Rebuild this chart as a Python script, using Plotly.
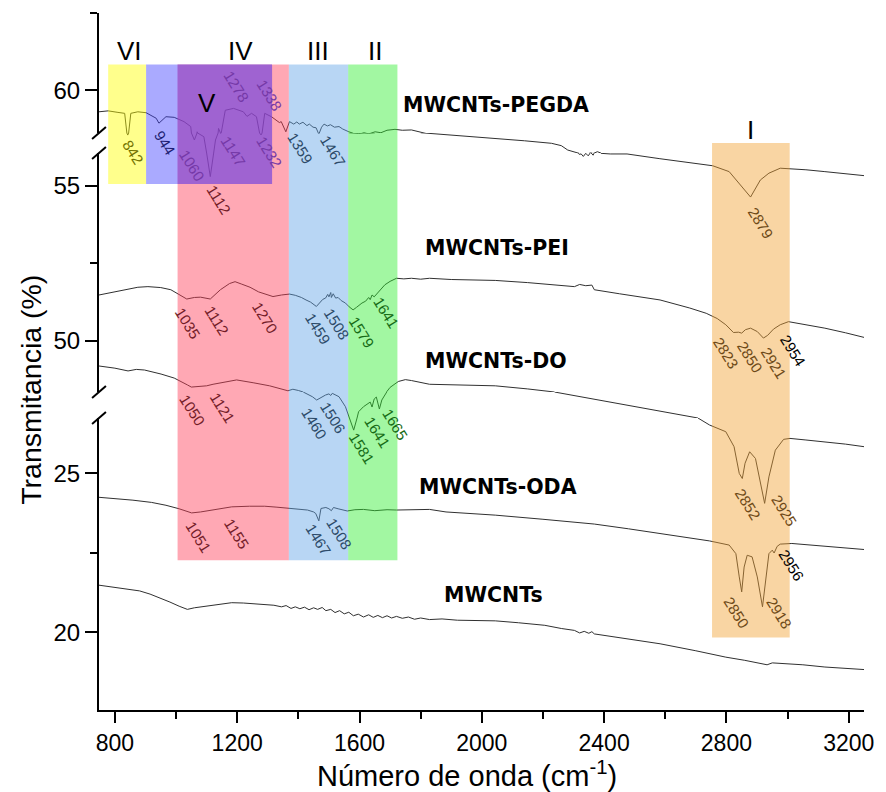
import plotly.graph_objects as go

# ---------------- spectra: wavenumber (cm-1) / transmittance (%) ----------------
wn_pegda = [748, 778, 810, 832, 842, 852, 875, 902, 935, 944, 967, 994, 1026, 1048, 1060, 1069,
            1091, 1100, 1112, 1123, 1129, 1139, 1147, 1161, 1188, 1220, 1232, 1247, 1263, 1278,
            1290, 1312, 1338, 1344, 1359, 1371, 1385, 1395, 1403, 1415, 1428, 1436, 1448, 1458,
            1467, 1476, 1484, 1495, 1505, 1518, 1533, 1545, 1565, 1580, 1597, 1615, 1630, 1651,
            1670, 1690, 1716, 1740, 1770, 1800, 1828, 1880, 1937, 2000, 2044, 2140, 2228, 2260,
            2281, 2300, 2310, 2318, 2325, 2332, 2340, 2348, 2356, 2364, 2372, 2378, 2390, 2420,
            2475, 2580, 2691, 2755, 2809, 2842, 2879, 2911, 2939, 2976, 3014, 3060, 3122, 3180, 3251]
t_pegda = [59.30, 59.33, 59.28, 59.25, 58.35, 59.25, 59.30, 59.27, 59.09, 58.93, 59.14, 59.12, 58.98,
           58.82, 57.72, 58.65, 58.14, 56.06, 55.30, 56.06, 57.72, 58.76, 58.57, 59.35, 59.41, 59.30,
           59.15, 59.25, 59.14, 58.36, 59.25, 59.14, 58.95, 58.98, 58.65, 58.98, 58.90, 58.97, 58.90,
           58.96, 58.85, 58.90, 58.80, 58.78, 58.57, 58.80, 58.90, 58.84, 58.88, 58.80, 58.82, 58.74,
           58.65, 58.60, 58.57, 58.62, 58.58, 58.65, 58.62, 58.70, 58.73, 58.70, 58.71, 58.65, 58.57,
           58.42, 58.23, 58.05, 57.93, 57.62, 57.30, 57.00, 56.44, 56.25, 56.10, 56.02, 56.03, 55.95,
           56.05, 55.97, 56.08, 55.99, 56.15, 56.23, 56.05, 56.03, 56.03, 55.88, 55.73, 55.65, 55.46,
           55.09, 54.64, 55.19, 55.41, 55.57, 55.55, 55.52, 55.46, 55.40, 55.33]

wn_pei = [748, 800, 840, 875, 908, 950, 983, 1010, 1035, 1060, 1080, 1112, 1145, 1175, 1193, 1215,
          1242, 1270, 1285, 1317, 1345, 1371, 1390, 1410, 1425, 1440, 1459, 1470, 1480, 1489, 1496,
          1500, 1506, 1508, 1514, 1522, 1530, 1540, 1554, 1566, 1579, 1590, 1608, 1620, 1630, 1635,
          1641, 1648, 1662, 1672, 1683, 1700, 1721, 1745, 1770, 1800, 1829, 1900, 2044, 2150, 2250,
          2303, 2320, 2340, 2360, 2368, 2450, 2583, 2680, 2734, 2770, 2798, 2823, 2840, 2850, 2862,
          2879, 2901, 2921, 2935, 2954, 2976, 3003, 3060, 3122, 3190, 3251]
t_pei = [51.48, 51.59, 51.68, 51.73, 51.75, 51.72, 51.65, 51.50, 51.35, 51.40, 51.41, 51.35, 51.65,
         51.85, 51.91, 51.83, 51.73, 51.58, 51.54, 51.43, 51.48, 51.51, 51.47, 51.40, 51.32, 51.25,
         51.11, 51.22, 51.34, 51.38, 51.50, 51.42, 51.56, 51.40, 51.52, 51.38, 51.40, 51.30, 51.22,
         51.10, 51.00, 51.08, 51.22, 51.28, 51.40, 51.33, 51.48, 51.42, 51.59, 51.70, 51.81, 51.92,
         52.02, 52.00, 52.02, 51.99, 52.02, 51.98, 51.95, 51.88, 51.80, 51.75, 51.82, 51.78, 51.80,
         51.65, 51.52, 51.32, 51.06, 50.89, 50.72, 50.52, 50.27, 50.28, 50.25, 50.36, 50.41, 50.30,
         50.09, 50.18, 50.38, 50.52, 50.62, 50.52, 50.41, 50.26, 50.11]

wn_do = [748, 800, 843, 870, 897, 925, 951, 994, 1020, 1037, 1050, 1080, 1100, 1121, 1166, 1198,
         1252, 1306, 1366, 1382, 1400, 1416, 1430, 1446, 1460, 1468, 1489, 1500, 1506, 1511, 1522,
         1533, 1554, 1567, 1581, 1592, 1597, 1613, 1625, 1635, 1641, 1648, 1655, 1665, 1673, 1680,
         1689, 1700, 1710, 1727, 1750, 1770, 1829, 1950, 2044, 2150, 2238, 2707, 2745, 2798, 2825,
         2842, 2852, 2861, 2876, 2895, 2911, 2925, 2939, 2960, 2987, 3008, 3060, 3122, 3190, 3250]
t_do = [49.19, 49.12, 49.03, 49.08, 49.06, 49.00, 48.93, 48.80, 48.68, 48.58, 48.51, 48.52, 48.55,
        48.60, 48.69, 48.74, 48.65, 48.55, 48.39, 48.44, 48.40, 48.35, 46.50, 44.44, 41.70, 43.00,
        45.86, 46.80, 45.50, 47.27, 45.90, 44.44, 36.13, 26.73, 26.35, 26.73, 31.97, 36.13, 38.37,
        40.00, 35.88, 42.53, 44.19, 34.21, 41.70, 45.02, 48.36, 48.50, 48.58, 48.69, 48.75, 48.72,
        48.60, 48.58, 48.55, 48.45, 48.35, 26.73, 26.51, 26.30, 25.83, 24.99, 24.83, 25.31, 25.67,
        25.46, 24.68, 24.05, 24.88, 25.72, 26.06, 26.09, 26.04, 25.98, 25.91, 25.83]

wn_oda = [748, 800, 859, 920, 967, 1010, 1032, 1051, 1080, 1118, 1155, 1182, 1240, 1290, 1330, 1366,
          1400, 1430, 1450, 1457, 1467, 1474, 1490, 1500, 1508, 1515, 1530, 1560, 1585, 1613, 1650,
          1690, 1721, 1780, 1829, 1883, 1960, 2044, 2200, 2368, 2480, 2583, 2680, 2745, 2809, 2831,
          2842, 2850, 2858, 2868, 2884, 2901, 2918, 2928, 2939, 2950, 2956, 2966, 2976, 3014, 3070,
          3122, 3190, 3251]
t_oda = [24.24, 24.20, 24.15, 24.08, 23.99, 23.88, 23.81, 23.75, 23.78, 23.84, 23.90, 23.94, 23.96,
         23.96, 23.93, 23.89, 23.86, 23.84, 23.78, 23.73, 23.50, 23.89, 23.92, 23.88, 23.82, 23.92,
         23.88, 23.81, 23.85, 23.86, 23.82, 23.85, 23.84, 23.86, 23.86, 23.78, 23.73, 23.68, 23.55,
         23.40, 23.25, 23.10, 22.96, 22.87, 22.74, 22.47, 21.74, 21.27, 22.05, 22.42, 22.37, 21.74,
         20.80, 21.53, 22.47, 22.58, 22.49, 22.70, 22.77, 22.79, 22.75, 22.70, 22.65, 22.60]

wn_mw = [748, 790, 816, 850, 881, 915, 945, 980, 1010, 1037, 1060, 1096, 1140, 1182, 1220, 1260,
         1290, 1320, 1345, 1360, 1376, 1390, 1405, 1420, 1435, 1450, 1463, 1478, 1490, 1506, 1520,
         1535, 1550, 1565, 1580, 1596, 1613, 1630, 1645, 1660, 1675, 1690, 1705, 1721, 1740, 1760,
         1780, 1800, 1829, 1870, 1920, 2000, 2044, 2120, 2206, 2260, 2303, 2320, 2335, 2350, 2360,
         2368, 2450, 2583, 2700, 2798, 2860, 2906, 2933, 2950, 2971, 3050, 3122, 3190, 3251]
t_mw = [21.48, 21.42, 21.37, 21.33, 21.30, 21.20, 21.09, 20.95, 20.82, 20.72, 20.77, 20.82, 20.88,
        20.93, 20.92, 20.89, 20.88, 20.85, 20.80, 20.84, 20.75, 20.80, 20.74, 20.79, 20.71, 20.77,
        20.72, 20.78, 20.68, 20.72, 20.62, 20.68, 20.58, 20.63, 20.52, 20.57, 20.48, 20.55, 20.47,
        20.53, 20.46, 20.52, 20.45, 20.50, 20.44, 20.48, 20.41, 20.45, 20.40, 20.42, 20.38, 20.38,
        20.36, 20.30, 20.22, 20.12, 20.06, 19.98, 20.03, 19.97, 20.02, 19.95, 19.84, 19.64, 19.42,
        19.22, 19.12, 19.03, 18.98, 19.04, 19.03, 18.98, 18.91, 18.87, 18.83]

series_names = ["MWCNTs-PEGDA", "MWCNTs-PEI", "MWCNTs-DO", "MWCNTs-ODA", "MWCNTs"]
series_wn = [wn_pegda, wn_pei, wn_do, wn_oda, wn_mw]
series_t = [t_pegda, t_pei, t_do, t_oda, t_mw]
# where each series name is written (wavenumber, transmittance)
name_wn = [2046, 2050, 2046, 2053, 2037]
name_t = [59.52, 53.0, 49.35, 24.56, 21.16]

# ---------------- assignment bands ----------------
band_names = ["VI", "IV", "V", "III", "II", "I"]
band_from = [778, 902, 1005, 1369, 1563, 2753]
band_to = [902, 1314, 1369, 1563, 1724, 3007]
band_top = [60.84, 60.84, 60.84, 60.84, 60.84, 57.33]
band_bottom = [55.06, 55.06, 22.26, 22.26, 22.26, 19.84]
band_label_wn = [847, 1212, 1101, 1463, 1650, 2878]
band_label_t = [61.26, 61.26, 59.58, 61.26, 61.26, 58.71]

# ---------------- peak positions written on the spectra ----------------
peak_text = ["842", "944", "1060", "1112", "1147", "1232", "1278", "1338", "1359", "1467", "2879",
             "1035", "1112", "1270", "1459", "1508", "1579", "1641", "2823", "2850", "2921", "2954",
             "1050", "1121", "1460", "1506", "1581", "1641", "1665", "2852", "2925",
             "1051", "1155", "1467", "1508", "2850", "2918", "2956"]
peak_wn = [861, 962, 1052, 1139, 1185, 1307, 1198, 1307, 1408, 1511, 2911,
           1036, 1133, 1291, 1463, 1524, 1605, 1686, 2797, 2875, 2953, 3017,
           1055, 1152, 1453, 1514, 1605, 1660, 1718, 2868, 2988,
           1075, 1198, 1466, 1534, 2833, 2972, 3014]
peak_t = [56.19, 57.34, 55.65, 54.55, 56.32, 56.19, 60.13, 59.84, 56.70, 56.32, 53.81,
          50.58, 50.65, 50.77, 50.39, 50.55, 50.29, 50.90, 49.61, 49.48, 49.29, 49.68,
          33.38, 35.88, 26.57, 27.56, 25.79, 26.29, 26.54, 24.03, 23.81,
          22.99, 23.11, 22.92, 23.11, 20.63, 20.63, 22.11]

# ---------------- broken y axis ----------------
Y_PIECES = [(17.56, 26.73), (48.35, 56.06), (58.61, 62.51)]
Y_DOMAINS = [(0.0, 0.4189), (0.4562, 0.7991), (0.8278, 1.0)]

pieces = []
for i, (rng, dom) in enumerate(zip(Y_PIECES, Y_DOMAINS)):
    pieces.append((rng, dom, True))
    if i + 1 < len(Y_PIECES):
        pieces.append(((rng[1], Y_PIECES[i + 1][0]), (dom[1], Y_DOMAINS[i + 1][0]), False))


def to_paper(v):
    for (lo, hi), (d0, d1), _ in pieces:
        if lo <= v <= hi:
            return d0 + (v - lo) / (hi - lo) * (d1 - d0)
    (lo, hi), (d0, d1), _ = pieces[0] if v < pieces[0][0][0] else pieces[-1]
    return d0 + (v - lo) / (hi - lo) * (d1 - d0)


def part_in(lo, hi, xs, ys):
    """Segments of a spectrum that pass through (lo, hi); the rest is left out."""
    side = [0 if lo < v < hi else (-1 if v <= lo else 1) for v in ys]
    ox, oy = [], []
    last = None
    for i in range(len(ys) - 1):
        if side[i] != 0 and side[i] == side[i + 1]:
            continue
        if last != i:
            if ox:
                ox.append(None)
                oy.append(None)
            ox.append(xs[i])
            oy.append(ys[i])
        ox.append(xs[i + 1])
        oy.append(ys[i + 1])
        last = i + 1
    return ox, oy


FONT = "Liberation Sans, Arial, sans-serif"
LINE = "#303030"
ALPHA = 0.45
band_rgb = {"VI": (255, 255, 0), "IV": (67, 67, 255), "V": (255, 62, 89),
            "III": (98, 164, 231), "II": (49, 238, 49), "I": (242, 162, 51)}
overlap_rgb = (147, 72, 205)

fig = go.Figure()

axis_names = []
for k, ((lo, hi), dom, visible) in enumerate(pieces):
    name = "y" if k == 0 else f"y{k + 1}"
    axis_names.append((name, lo, hi))
    key = "yaxis" if k == 0 else f"yaxis{k + 1}"
    ax = dict(domain=list(dom), range=[lo, hi], anchor="x", showgrid=False, zeroline=False,
              fixedrange=True)
    if visible:
        ax.update(showline=True, linecolor="black", linewidth=2, ticks="outside", ticklen=12,
                  tickwidth=2, tickcolor="black", tickmode="linear", tick0=0, dtick=5,
                  tickfont=dict(family=FONT, size=24, color="black"),
                  minor=dict(ticks="outside", ticklen=7, tickwidth=2, tickcolor="black",
                             tickmode="linear", tick0=0, dtick=2.5))
    else:
        ax.update(showline=False, ticks="", showticklabels=False)
    fig.layout[key] = ax

for wn, t in zip(series_wn, series_t):
    for name, lo, hi in axis_names:
        px, py = part_in(lo, hi, wn, t)
        if not px:
            continue
        fig.add_trace(go.Scatter(x=px, y=py, xaxis="x", yaxis=name, mode="lines",
                                 line=dict(color=LINE, width=1), showlegend=False,
                                 connectgaps=False, hoverinfo="skip"))

# bands, laid semi-transparently over the spectra
shapes = []
drawn = []  # (x0, x1, bottom, top, rgb) in drawing order
order = ["V", "VI", "IV", "III", "II", "I"]
for nm in order:
    i = band_names.index(nm)
    drawn.append((band_from[i], band_to[i], band_bottom[i], band_top[i], band_rgb[nm]))
iv, v = band_names.index("IV"), band_names.index("V")
ov = (max(band_from[iv], band_from[v]), min(band_to[iv], band_to[v]),
      max(band_bottom[iv], band_bottom[v]), min(band_top[iv], band_top[v]), overlap_rgb)
drawn.insert(3, ov)

for x0, x1, b, tp, rgb in drawn:
    shapes.append(dict(type="rect", xref="x", yref="paper", x0=x0, x1=x1,
                       y0=to_paper(b), y1=to_paper(tp), line=dict(width=0),
                       fillcolor=f"rgba({rgb[0]},{rgb[1]},{rgb[2]},{ALPHA})", layer="above"))


def tint(wn, t):
    c = [0.0, 0.0, 0.0]
    for x0, x1, b, tp, rgb in drawn:
        if x0 <= wn <= x1 and b <= t <= tp:
            c = [ALPHA * rgb[j] + (1 - ALPHA) * c[j] for j in range(3)]
    return "rgb({:d},{:d},{:d})".format(*[int(round(x)) for x in c])


# axis-break marks
px_w, px_h = 774.0, 697.0
for k, ((lo, hi), (d0, d1), visible) in enumerate(pieces):
    if visible:
        continue
    for yb in (d0, d1):
        shapes.append(dict(type="line", xref="paper", yref="paper",
                           x0=-7 / px_w, x1=7 / px_w, y0=yb - 6 / px_h, y1=yb + 6 / px_h,
                           line=dict(color="black", width=2), layer="above"))

annotations = []
for nm, x, t in zip(band_names, band_label_wn, band_label_t):
    annotations.append(dict(x=x, y=to_paper(t), xref="x", yref="paper", text=nm, showarrow=False,
                            font=dict(family=FONT, size=26, color="black"),
                            xanchor="center", yanchor="middle"))
for nm, x, t in zip(series_names, name_wn, name_t):
    annotations.append(dict(x=x, y=to_paper(t), xref="x", yref="paper", text=f"<b>{nm}</b>",
                            showarrow=False, font=dict(family="DejaVu Sans", size=20.5,
                                                       color="black"),
                            xanchor="center", yanchor="middle"))
for txt, x, t in zip(peak_text, peak_wn, peak_t):
    annotations.append(dict(x=x, y=to_paper(t), xref="x", yref="paper", text=txt,
                            showarrow=False, textangle=58,
                            font=dict(family=FONT, size=15, color=tint(x, t)),
                            xanchor="center", yanchor="middle"))
annotations.append(dict(x=-69 / px_w, y=(710 - 390) / px_h, xref="paper", yref="paper",
                        text="Transmitancia (%)", textangle=-90, showarrow=False,
                        font=dict(family=FONT, size=28.5, color="black"),
                        xanchor="center", yanchor="middle"))
annotations.append(dict(x=(471 - 99) / px_w, y=-64 / px_h, xref="paper", yref="paper",
                        text="Número de onda (cm<sup>-1</sup>)", showarrow=False,
                        font=dict(family=FONT, size=29, color="black"),
                        xanchor="center", yanchor="middle"))

fig.update_layout(
    width=886, height=792,
    margin=dict(l=99, r=13, t=13, b=82, pad=0),
    paper_bgcolor="white", plot_bgcolor="white",
    showlegend=False,
    xaxis=dict(range=[748, 3250], anchor="y", domain=[0, 1], showgrid=False, zeroline=False,
               showline=True, linecolor="black", linewidth=2, ticks="outside", ticklen=11,
               tickwidth=2, tickcolor="black", tickmode="linear", tick0=0, dtick=400,
               tickfont=dict(family=FONT, size=23, color="black"),
               minor=dict(ticks="outside", ticklen=7, tickwidth=2, tickcolor="black",
                          tickmode="linear", tick0=0, dtick=200),
               fixedrange=True),
    shapes=shapes,
    annotations=annotations,
)

fig.write_html("out.html")
